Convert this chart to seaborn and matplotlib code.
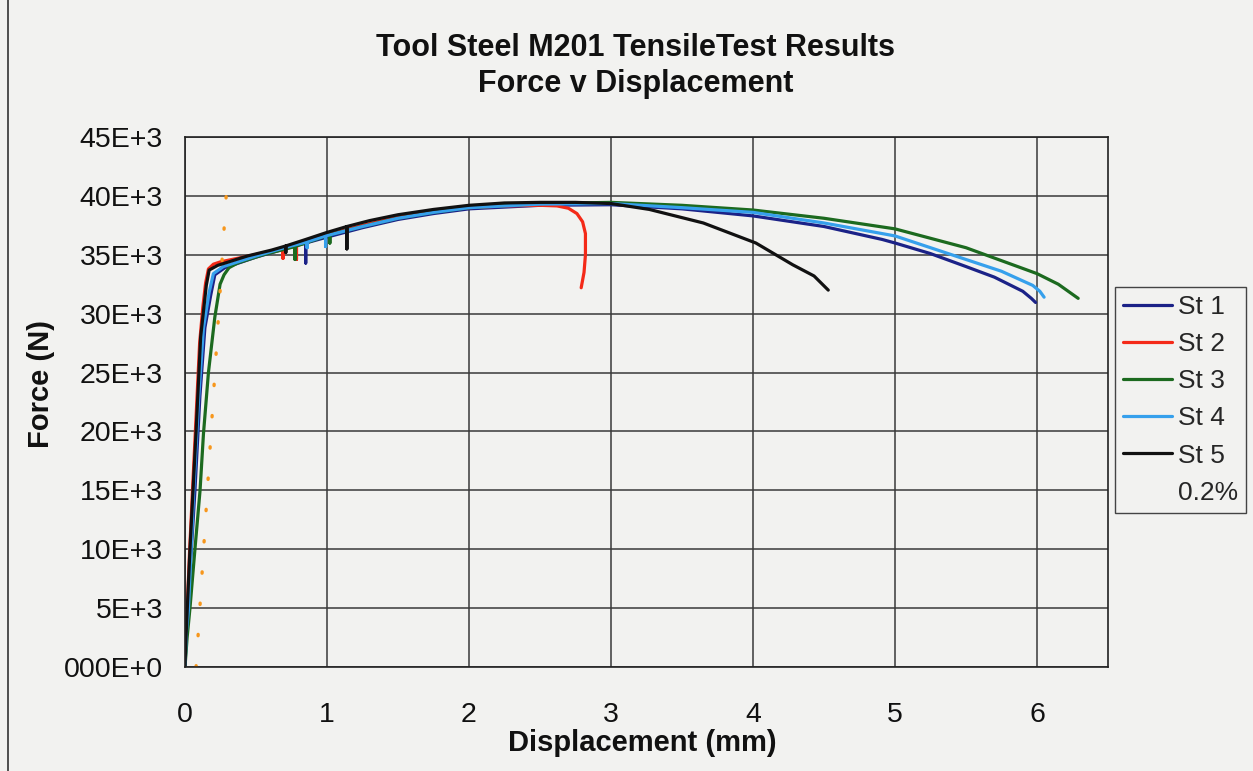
import numpy as np
import pandas as pd
import matplotlib
matplotlib.use("Agg")
import matplotlib.pyplot as plt
from matplotlib.lines import Line2D
import seaborn as sns

# Displacement (mm) and force (kN), one pair of lists per specimen
st1_disp = [0, 0.01, 0.02, 0.07, 0.105, 0.14, 0.18, 0.21, 0.28, 0.5, 0.7, 0.85, 0.85, 0.85, 1.0, 1.25, 1.5,
            1.75, 2.0, 2.5, 3.0, 3.5, 4.0, 4.5, 4.91, 5.0, 5.25, 5.5, 5.7, 5.9, 5.96, 5.99]
st1_force = [0, 3, 5, 15, 23, 28.8, 31.5, 33.3, 33.9, 34.8, 35.5, 36.0, 34.3, 36.0, 36.5, 37.3, 38.0,
             38.5, 38.9, 39.2, 39.25, 38.9, 38.3, 37.4, 36.3, 36.0, 35.1, 34.0, 33.1, 31.9, 31.3, 30.95]

st2_disp = [0, 0.005, 0.033, 0.073, 0.103, 0.125, 0.145, 0.165, 0.2, 0.25, 0.45, 0.69, 0.69, 0.69,
            0.785, 0.785, 0.785, 1.0, 1.25, 1.5, 1.75, 2.0, 2.25, 2.5, 2.62, 2.7, 2.76, 2.8, 2.82, 2.82,
            2.81, 2.79]
st2_force = [0, 2, 10, 20, 27.5, 30.5, 32.6, 33.8, 34.2, 34.4, 34.9, 35.5, 34.7, 35.5,
             35.8, 34.6, 35.8, 36.7, 37.5, 38.2, 38.7, 39.0, 39.15, 39.2, 39.15, 38.95, 38.5, 37.8, 36.8, 35.0,
             33.5, 32.2]

st3_disp = [0, 0.015, 0.035, 0.07, 0.106, 0.13, 0.165, 0.21, 0.247, 0.275, 0.31, 0.37, 0.55, 0.775, 0.775,
            0.775, 1.02, 1.02, 1.02, 1.25, 1.5, 1.75, 2.0, 2.5, 3.0, 3.5, 4.0, 4.5, 5.0, 5.5, 6.0, 6.15, 6.29]
st3_force = [0, 2.5, 5, 10, 15, 19.8, 25, 29.7, 32.5, 33.3, 33.9, 34.3, 35.0, 35.7, 34.6,
             35.7, 36.7, 36.0, 36.7, 37.4, 38.1, 38.6, 39.0, 39.35, 39.45, 39.2, 38.8, 38.1, 37.2, 35.6, 33.4,
             32.5, 31.3]

st4_disp = [0, 0.01, 0.024, 0.06, 0.095, 0.13, 0.17, 0.2, 0.27, 0.5, 0.7, 0.86, 0.86, 0.86, 0.99, 0.99, 0.99,
            1.25, 1.5, 1.75, 2.0, 2.5, 3.0, 3.5, 4.0, 4.5, 5.0, 5.5, 5.75, 5.97, 6.02, 6.05]
st4_force = [0, 3, 4.8, 14.7, 22.6, 28.8, 31.8, 33.4, 34.0, 34.9, 35.6, 36.1, 35.6, 36.1, 36.6, 35.7, 36.6,
             37.4, 38.1, 38.6, 39.0, 39.3, 39.35, 39.0, 38.6, 37.7, 36.6, 34.6, 33.6, 32.4, 31.9, 31.4]

st5_disp = [0, 0.005, 0.035, 0.078, 0.11, 0.13, 0.15, 0.17, 0.23, 0.44, 0.61, 0.71, 0.71, 0.71, 0.85, 1.0,
            1.14, 1.14, 1.14, 1.3, 1.5, 1.75, 2.0, 2.25, 2.5, 2.75, 3.0, 3.27, 3.65, 4.02, 4.28, 4.43, 4.53]
st5_force = [0, 2, 10, 20, 28, 30.2, 32.4, 33.7, 34.1, 34.9, 35.4, 35.75, 35.2, 35.75, 36.3, 36.9,
             37.4, 35.5, 37.4, 37.9, 38.4, 38.85, 39.2, 39.4, 39.45, 39.45, 39.35, 38.85, 37.7, 36.0, 34.15,
             33.2, 32.0]

# 0.2 % offset line
offset_disp = [0.078, 0.29]
offset_force = [0, 40]

series_names = ["St 1", "St 2", "St 3", "St 4", "St 5"]
series_colors = ["#1b2287", "#f42a18", "#1c6a1f", "#36a0ec", "#111111"]

x_ticks = [0, 1, 2, 3, 4, 5, 6]
y_ticks = [0, 5000, 10000, 15000, 20000, 25000, 30000, 35000, 40000, 45000]
y_tick_labels = ["000E+0", "5E+3", "10E+3", "15E+3", "20E+3", "25E+3", "30E+3", "35E+3", "40E+3", "45E+3"]

frames = []
for name, d, f in zip(series_names,
                      [st1_disp, st2_disp, st3_disp, st4_disp, st5_disp],
                      [st1_force, st2_force, st3_force, st4_force, st5_force]):
    frames.append(pd.DataFrame({"disp": d, "force": np.array(f) * 1000, "series": name}))
df = pd.concat(frames, ignore_index=True)
off_df = pd.DataFrame({"disp": offset_disp, "force": np.array(offset_force) * 1000})

sns.set_style("white")
plt.rcParams["font.family"] = ["Liberation Sans", "DejaVu Sans"]
bg = "#f2f2f0"

W, H = 1253, 771
fig = plt.figure(figsize=(W / 100, H / 100), dpi=100, facecolor=bg)
ax = fig.add_axes([185 / W, 1 - 667 / H, (1108 - 185) / W, (667 - 137) / H])
ax.set_facecolor(bg)

sns.lineplot(data=df, x="disp", y="force", hue="series", palette=dict(zip(series_names, series_colors)),
             sort=False, estimator=None, linewidth=2.3, ax=ax, legend=True)
off_line = sns.lineplot(data=off_df, x="disp", y="force", color="#f7971c", linewidth=2.4,
                        linestyle=(0, (0.4, 9)), sort=False, estimator=None, ax=ax, label="0.2%").lines[-1]
off_line.set_dash_capstyle("round")

ax.set_xlim(0, 6.5)
ax.set_ylim(0, 45000)
ax.set_xticks(x_ticks)
ax.set_yticks(y_ticks, labels=y_tick_labels)
ax.grid(True, color="#3a3a3a", linewidth=1.1)
ax.set_axisbelow(True)
for s in ax.spines.values():
    s.set_color("#222222")
    s.set_linewidth(1.2)
ax.tick_params(axis="both", direction="out", length=6, width=1.1, color="#222222",
               labelsize=20.5, labelcolor="#111111")
ax.tick_params(axis="x", pad=19)
ax.tick_params(axis="y", pad=10)

ax.set_xlabel("Displacement (mm)", fontsize=21, fontweight="bold", color="#111111")
ax.set_ylabel("Force (N)", fontsize=21, fontweight="bold", color="#111111")
ax.xaxis.label.set_verticalalignment("center")
ax.yaxis.label.set_verticalalignment("center")
ax.xaxis.set_label_coords((642 - 185) / 923, -(743 - 667) / 530)
ax.yaxis.set_label_coords((41 - 185) / 923, (667 - 384) / 530)

fig.text(0.507, 1 - 33 / H, "Tool Steel M201 TensileTest Results\nForce v Displacement",
         ha="center", va="top", fontsize=22, fontweight="bold", linespacing=1.27, color="#111111")

handles, labels = ax.get_legend_handles_labels()
handles[-1] = Line2D([], [], color="none")
leg = ax.legend(handles, labels, loc="upper left", bbox_to_anchor=(1115 / W, 1 - 287 / H),
                bbox_transform=fig.transFigure, fontsize=19, frameon=True, fancybox=False,
                edgecolor="#444444", facecolor=bg, framealpha=1, borderaxespad=0,
                handlelength=1.85, handletextpad=0.25, labelspacing=0.5, borderpad=0.3)
leg.get_frame().set_linewidth(1.0)

fig.add_artist(Line2D([8 / W, 8 / W], [0, 1], transform=fig.transFigure, color="#333333", linewidth=1.2))

fig.savefig("out.png", dpi=100, facecolor=bg)
